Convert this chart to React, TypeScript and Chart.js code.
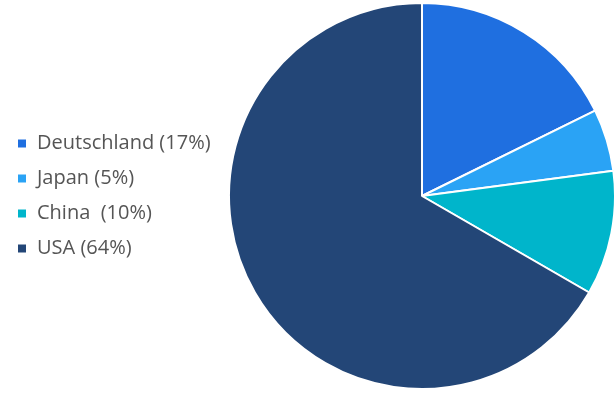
import React, { useEffect, useRef } from "react";
import { Chart, registerables } from "chart.js";

Chart.register(...registerables);

const labels = ["Deutschland (17%)", "Japan (5%)", "China  (10%)", "USA (64%)"];
const values = [17, 5, 10, 64];
const colors = ["#1f6fe0", "#2aa3f5", "#00b5cb", "#234677"];

const legendWidthPlugin = {
  id: "legendWidth",
  beforeInit(chart: any) {
    const legend = chart.legend;
    if (legend) {
      const orig = legend.fit;
      legend.fit = function () {
        orig.call(this);
        this.width = 226;
      };
    }
  },
};

export default function App() {
  const ref = useRef<HTMLCanvasElement>(null);
  useEffect(() => {
    if (!ref.current) return;
    const chart = new Chart(ref.current, {
      type: "pie",
      data: {
        labels,
        datasets: [
          {
            data: values,
            backgroundColor: colors,
            borderColor: "#ffffff",
            borderWidth: 2,
            hoverOffset: 0,
          },
        ],
      },
      options: {
        animation: false,
        responsive: true,
        maintainAspectRatio: false,
        layout: { padding: { top: 2, bottom: 5, right: 0, left: 2 } },
        plugins: {
          legend: {
            position: "left",
            labels: {
              boxWidth: 10,
              boxHeight: 10,
              padding: 15,
              color: "#555555",
              font: { family: "'Open Sans'", size: 20 },
            },
          },
          tooltip: { enabled: false },
        },
      },
      plugins: [legendWidthPlugin],
    });
    return () => chart.destroy();
  }, []);
  return (
    <div style={{ position: "fixed", left: 0, top: 0, width: 616, height: 395, background: "#fff" }}>
      <canvas ref={ref} />
    </div>
  );
}
